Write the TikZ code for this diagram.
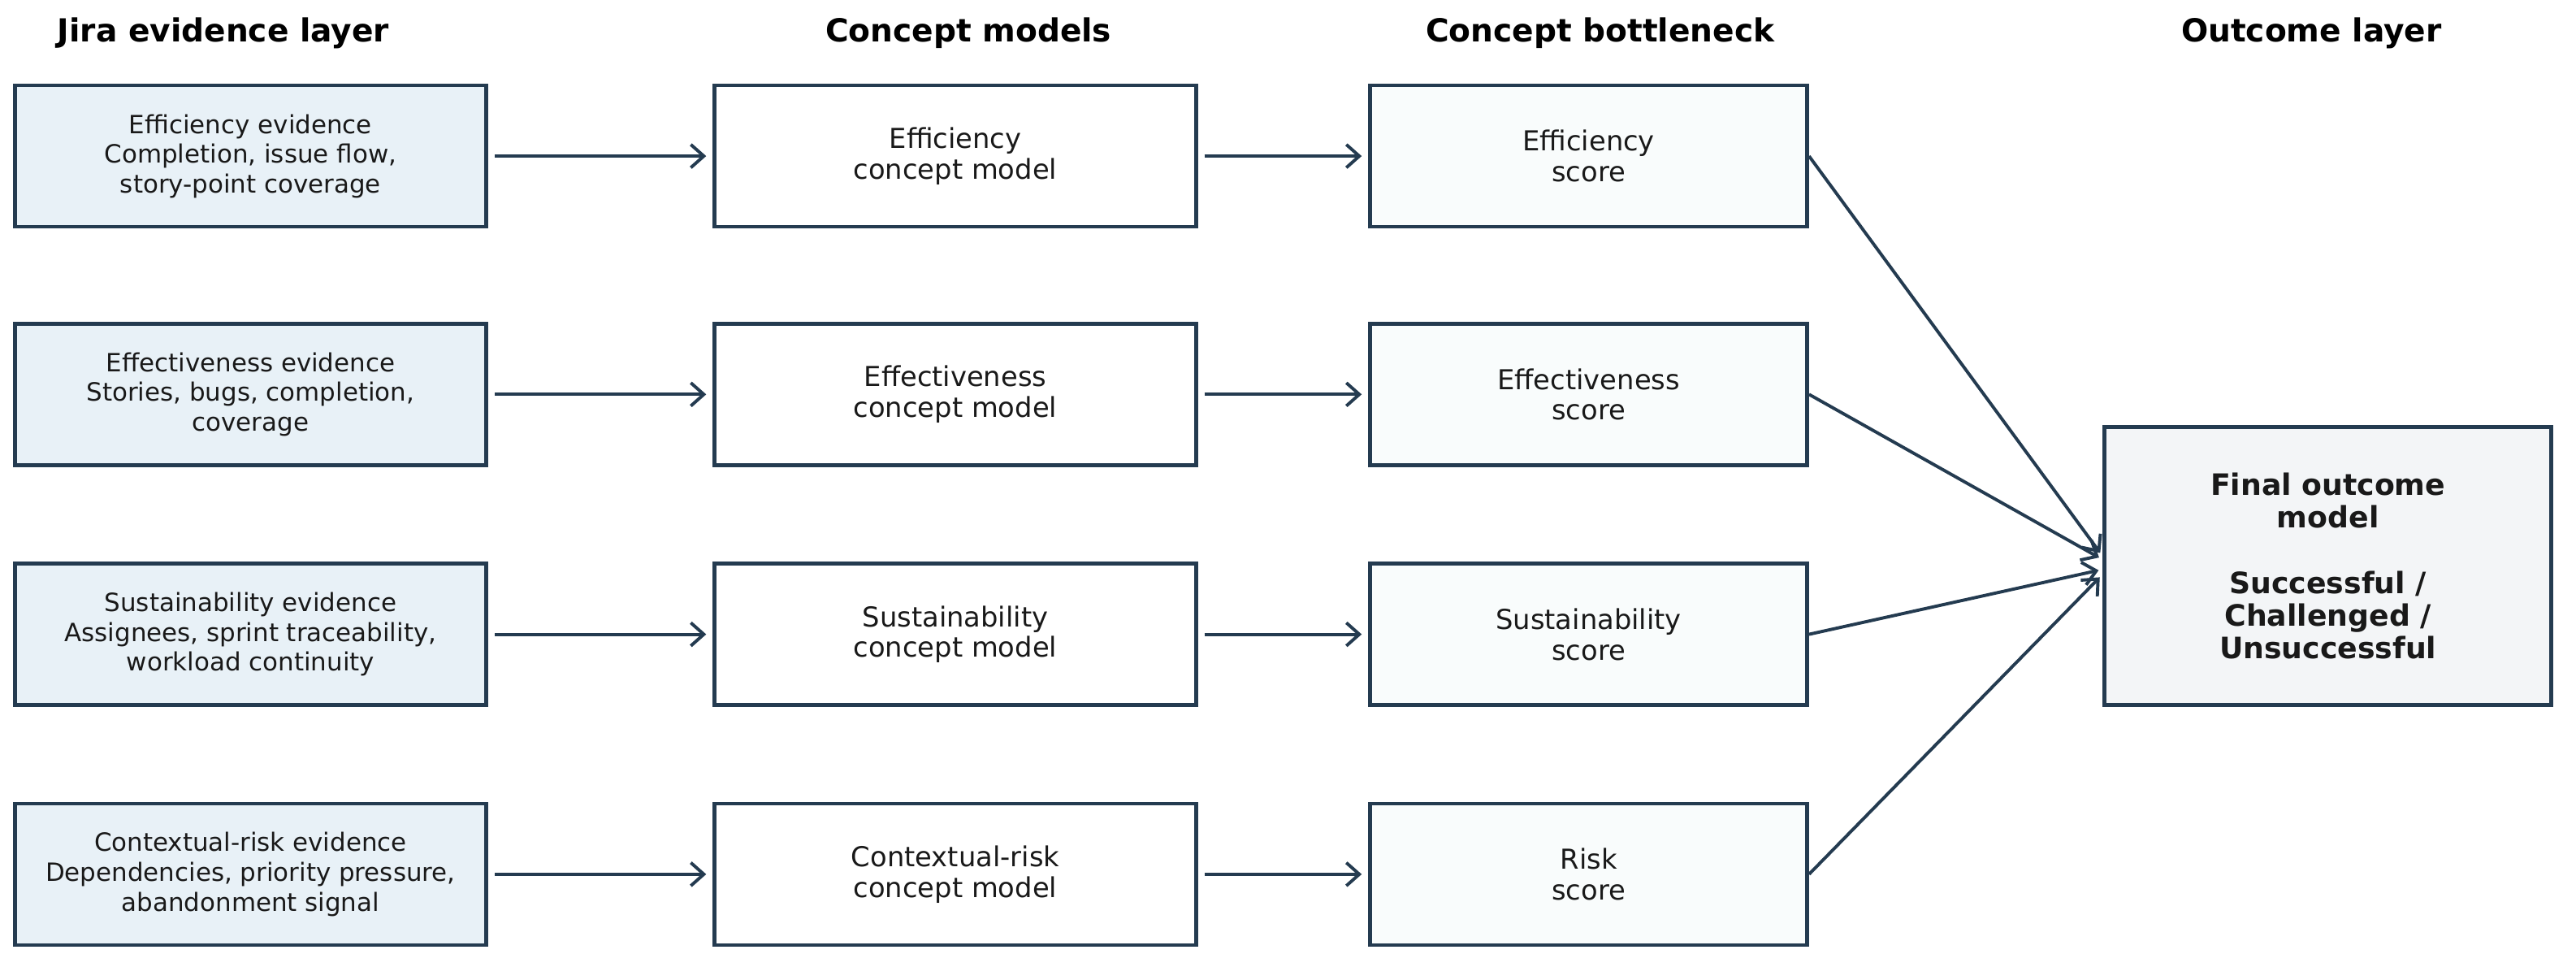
\documentclass[tikz,border=0pt]{standalone}
\usepackage{fontspec}
\setmainfont{DejaVu Sans}
\usepackage{tikz}
\usetikzlibrary{calc}
\usetikzlibrary{arrows.meta}

\definecolor{navy}{HTML}{243B50}
\definecolor{evfill}{HTML}{E8F1F7}
\definecolor{scfill}{HTML}{F9FCFC}
\definecolor{outfill}{HTML}{F3F5F7}

\begin{document}
\begin{tikzpicture}[
      box/.style={draw=navy, line width=1.3pt, inner sep=0, align=center, text=black!90},
      evid/.style={box, fill=evfill, minimum width=5.74cm, minimum height=1.72cm, font=\fontsize{8.7}{10.3}\selectfont},
      cmodel/.style={box, fill=white, minimum width=5.86cm, minimum height=1.72cm, font=\fontsize{9.5}{10.6}\selectfont},
      cscore/.style={box, fill=scfill, minimum width=5.32cm, minimum height=1.72cm, font=\fontsize{9.5}{10.6}\selectfont},
      outbox/.style={box, fill=outfill, minimum width=5.44cm, minimum height=3.38cm, font=\fontsize{10.2}{11.3}\selectfont\bfseries},
      ttl/.style={font=\fontsize{11}{13}\selectfont\bfseries, text=black},
      flow/.style={draw=navy, line width=1.1pt, -{Straight Barb[length=4.5pt,width=8pt,line width=1.1pt]}}
    ]
      \useasboundingbox (0,0) rectangle (31.36,11.76);

      \node [ttl] (t1) at (2.72, 11.36) {Jira evidence layer};
      \node [ttl] (t2) at (11.79, 11.36) {Concept models};
      \node [ttl] (t3) at (19.48, 11.36) {Concept bottleneck};
      \node [ttl] (t4) at (28.14, 11.36) {Outcome layer};

      \node [evid] (e1) at (3.05, 9.86) {Efficiency evidence\\Completion, issue flow,\\story-point coverage};
      \node [evid] (e2) at (3.05, 6.96) {Effectiveness evidence\\Stories, bugs, completion,\\coverage};
      \node [evid] (e3) at (3.05, 4.04) {Sustainability evidence\\Assignees, sprint traceability,\\workload continuity};
      \node [evid] (e4) at (3.05, 1.12) {Contextual-risk evidence\\Dependencies, priority pressure,\\abandonment signal};

      \node [cmodel] (m1) at (11.63, 9.86) {Efficiency\\concept model};
      \node [cmodel] (m2) at (11.63, 6.96) {Effectiveness\\concept model};
      \node [cmodel] (m3) at (11.63, 4.04) {Sustainability\\concept model};
      \node [cmodel] (m4) at (11.63, 1.12) {Contextual-risk\\concept model};

      \node [cscore] (s1) at (19.34, 9.86) {Efficiency\\score};
      \node [cscore] (s2) at (19.34, 6.96) {Effectiveness\\score};
      \node [cscore] (s3) at (19.34, 4.04) {Sustainability\\score};
      \node [cscore] (s4) at (19.34, 1.12) {Risk\\score};

      \node [outbox] (fin) at (28.34, 4.87) {Final outcome\\model\\[11.3pt]Successful /\\Challenged /\\Unsuccessful};

      \draw [flow, shorten <=0.08cm, shorten >=0.08cm] (e1)--(m1);
      \draw [flow, shorten <=0.08cm, shorten >=0.08cm] (e2)--(m2);
      \draw [flow, shorten <=0.08cm, shorten >=0.08cm] (e3)--(m3);
      \draw [flow, shorten <=0.08cm, shorten >=0.08cm] (e4)--(m4);

      \draw [flow, shorten <=0.08cm, shorten >=0.08cm] (m1)--(s1);
      \draw [flow, shorten <=0.08cm, shorten >=0.08cm] (m2)--(s2);
      \draw [flow, shorten <=0.08cm, shorten >=0.08cm] (m3)--(s3);
      \draw [flow, shorten <=0.08cm, shorten >=0.08cm] (m4)--(s4);

      \draw [flow, shorten >=0.05cm] (s1.east)--([yshift=0.12cm]fin.west);
      \draw [flow, shorten >=0.05cm] (s2.east)--([yshift=0.08cm]fin.west);
      \draw [flow, shorten >=0.05cm] (s3.east)--([yshift=-0.04cm]fin.west);
      \draw [flow, shorten >=0.05cm] (s4.east)--([yshift=-0.1cm]fin.west);
\end{tikzpicture}
\end{document}
